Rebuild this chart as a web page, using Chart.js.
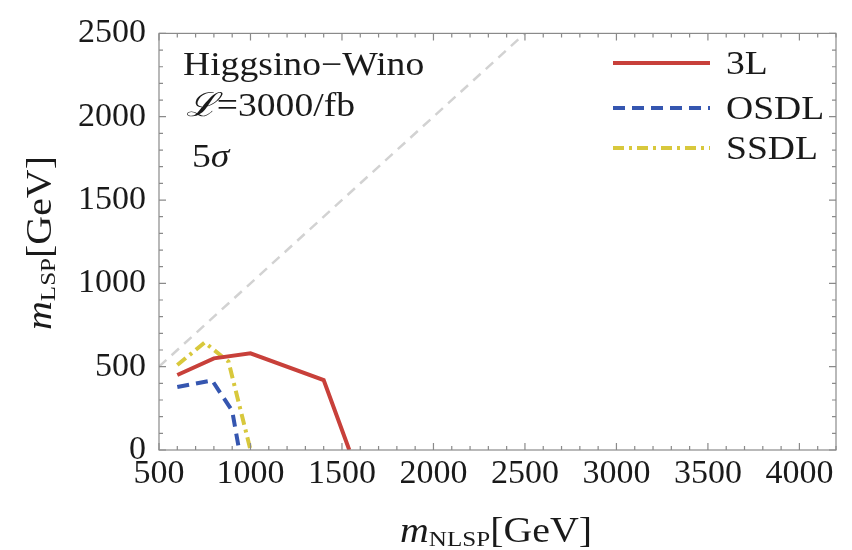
<!DOCTYPE html>
<html>
<head>
<meta charset="utf-8">
<script src="https://cdn.jsdelivr.net/npm/chart.js@4"></script>
<style>
  html, body { margin: 0; padding: 0; background: #fff; }
  #wrap { width: 852px; height: 550px; }
</style>
</head>
<body>
<div id="wrap"><canvas id="reach"></canvas></div>
<script>
// discovery reach, m_NLSP vs m_LSP in GeV
const nlspTicks = [500, 1000, 1500, 2000, 2500, 3000, 3500, 4000];
const lspTicks = [0, 500, 1000, 1500, 2000, 2500];

const nlspDiag = [500, 2500];
const lspDiag = [500, 2500];

const nlsp3L = [600, 800, 1000, 1400, 1540];
const lsp3L = [450, 550, 580, 420, 0];

const nlspOSDL = [600, 790, 900, 938];
const lspOSDL = [378, 418, 235, 0];

const nlspSSDL = [600, 750, 880, 1000];
const lspSSDL = [510, 645, 530, 0];

// pick a Times-like face if there is one, else DejaVu Serif
function hasFace(name) {
  const c = document.createElement('canvas').getContext('2d');
  c.font = '40px monospace';
  const w0 = c.measureText('Higgsino 3000 wW').width;
  c.font = '40px "' + name + '", monospace';
  return c.measureText('Higgsino 3000 wW').width !== w0;
}
const timesFace = ['Liberation Serif', 'Times New Roman', 'Tinos', 'Nimbus Roman', 'FreeSerif']
  .find(hasFace);
const serif = timesFace ? '"' + timesFace + '", serif' : '"DejaVu Serif", serif';
const stretch = timesFace ? 1.14 : 1.0;
const big = timesFace ? 33 : 29;
const title = timesFace ? 35 : 31;
const sub = timesFace ? 22 : 19;

function pts(xs, ys) {
  return xs.map((x, i) => ({ x: x, y: ys[i] }));
}

function drawText(ctx, str, x, y, size, italic) {
  ctx.save();
  ctx.font = (italic ? 'italic ' : '') + size + 'px ' + serif;
  ctx.translate(x, y);
  ctx.scale(stretch, 1);
  ctx.fillText(str, 0, 0);
  const w = ctx.measureText(str).width * stretch;
  ctx.restore();
  return w;
}

// draws a run of [text, size, italic, dy] pieces, returns total width
function drawRun(ctx, parts, x, y) {
  let cx = x;
  for (const p of parts) {
    cx += drawText(ctx, p[0], cx, y + (p[3] || 0), p[1], p[2]);
  }
  return cx - x;
}

const framePlugin = {
  id: 'frame',
  afterDatasetsDraw(chart) {
    const ctx = chart.ctx;
    const a = chart.chartArea;
    const xs = chart.scales.x;
    const ys = chart.scales.y;

    ctx.save();
    ctx.strokeStyle = '#8a8a8a';
    ctx.lineWidth = 1.2;
    ctx.strokeRect(a.left, a.top, a.right - a.left, a.bottom - a.top);

    // inward ticks on all four sides
    ctx.beginPath();
    for (let v = xs.min; v <= xs.max; v += 100) {
      const px = xs.getPixelForValue(v);
      const len = v % 500 === 0 ? 7 : 4;
      ctx.moveTo(px, a.bottom); ctx.lineTo(px, a.bottom - len);
      ctx.moveTo(px, a.top); ctx.lineTo(px, a.top + len);
    }
    for (let v = ys.min; v <= ys.max; v += 100) {
      const py = ys.getPixelForValue(v);
      const len = v % 500 === 0 ? 7 : 4;
      ctx.moveTo(a.left, py); ctx.lineTo(a.left + len, py);
      ctx.moveTo(a.right, py); ctx.lineTo(a.right - len, py);
    }
    ctx.stroke();
    ctx.restore();

    // legend
    ctx.save();
    const rows = [63, 108, 148];
    chart.data.datasets.slice(1).forEach((ds, i) => {
      ctx.strokeStyle = ds.borderColor;
      ctx.lineWidth = ds.borderWidth;
      ctx.setLineDash(ds.borderDash || []);
      ctx.beginPath();
      ctx.moveTo(613, rows[i]);
      ctx.lineTo(710, rows[i]);
      ctx.stroke();
      ctx.setLineDash([]);
      ctx.fillStyle = '#1a1a1a';
      ctx.textBaseline = 'alphabetic';
      drawText(ctx, ds.label, 726, rows[i] + 11, big, false);
    });
    ctx.restore();

    // labels inside the frame
    ctx.save();
    ctx.fillStyle = '#1a1a1a';
    ctx.textBaseline = 'alphabetic';
    drawText(ctx, 'Higgsino\u2212Wino', 183, 75, big, false);
    drawRun(ctx, [['\u2112', big, true], ['=3000/fb', big, false]], 186, 116);
    drawRun(ctx, [['5', big, false], ['\u03c3', big, true]], 192, 167);

    // axis titles
    drawRun(ctx, [['m', title, true], ['NLSP', sub, false, 4], ['[GeV]', title, false]], 400, 542);
    ctx.translate(51, 330);
    ctx.rotate(-Math.PI / 2);
    drawRun(ctx, [['m', title, true], ['LSP', sub, false, 4], ['[GeV]', title, false]], 0, 0);
    ctx.restore();
  }
};

const ctx = document.getElementById('reach').getContext('2d');

// eslint-disable-next-line
const chart = new Chart(ctx, {
  type: 'line',
  data: {
    datasets: [
      {
        label: 'diagonal',
        data: pts(nlspDiag, lspDiag),
        borderColor: '#d2d2d2',
        borderWidth: 2.5,
        borderDash: [10, 7],
        pointRadius: 0,
      },
      {
        label: '3L',
        data: pts(nlsp3L, lsp3L),
        borderColor: '#c8403a',
        borderWidth: 4,
        pointRadius: 0,
      },
      {
        label: 'OSDL',
        data: pts(nlspOSDL, lspOSDL),
        borderColor: '#3556b0',
        borderWidth: 4,
        borderDash: [12, 7],
        pointRadius: 0,
      },
      {
        label: 'SSDL',
        data: pts(nlspSSDL, lspSSDL),
        borderColor: '#d8c83c',
        borderWidth: 4,
        borderDash: [11, 5, 3, 5],
        pointRadius: 0,
      },
    ],
  },
  options: {
    responsive: true,
    maintainAspectRatio: false,
    animation: false,
    layout: { padding: { top: 30, right: 16, left: 0, bottom: 0 } },
    plugins: {
      legend: { display: false },
      tooltip: { enabled: false },
    },
    scales: {
      x: {
        type: 'linear',
        min: 500,
        max: 4200,
        grid: { display: false, drawTicks: false },
        border: { display: false },
        afterBuildTicks(scale) {
          scale.ticks = nlspTicks.map(v => ({ value: v }));
        },
        afterFit(scale) {
          scale.height = 100;
        },
        ticks: {
          autoSkip: false,
          maxRotation: 0,
          padding: 4,
          color: '#1a1a1a',
          font: { family: serif, size: timesFace ? 34 : 29 },
          callback: v => String(v),
        },
      },
      y: {
        type: 'linear',
        min: 0,
        max: 2500,
        grid: { display: false, drawTicks: false },
        border: { display: false },
        afterBuildTicks(scale) {
          scale.ticks = lspTicks.map(v => ({ value: v }));
        },
        afterFit(scale) {
          scale.width = 159;
        },
        ticks: {
          autoSkip: false,
          padding: 13,
          color: '#1a1a1a',
          font: { family: serif, size: timesFace ? 34 : 29 },
          callback: v => String(v),
        },
      },
    },
  },
  plugins: [framePlugin],
});
</script>
</body>
</html>
